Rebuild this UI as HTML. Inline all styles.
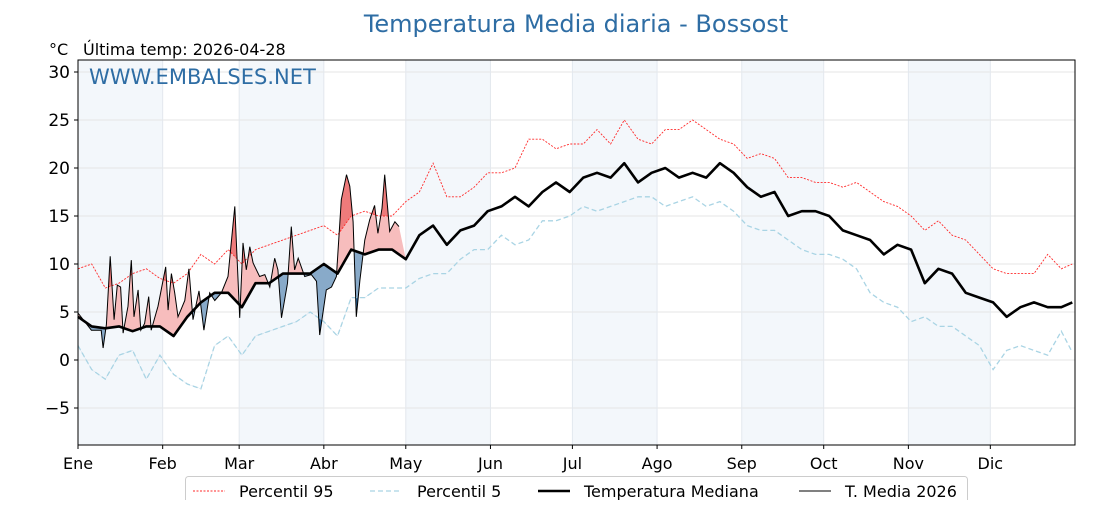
<!DOCTYPE html>
<html><head><meta charset="utf-8"><style>
body{margin:0;background:#fff;font-family:"Liberation Sans",sans-serif}
svg text{font-family:"DejaVu Sans","Liberation Sans",sans-serif}
</style></head><body>
<svg id="c" width="1120" height="500" xmlns="http://www.w3.org/2000/svg"></svg>
<script>
const months=["Ene","Feb","Mar","Abr","May","Jun","Jul","Ago","Sep","Oct","Nov","Dic"];
const monthStart=[0,31,59,90,120,151,181,212,243,273,304,334];
const yTicks=[-5,0,5,10,15,20,25,30];
const sampleDays=[0,5,10,15,20,25,30,35,40,45,50,55,60,65,70,75,80,85,90,95,100,105,110,115,120,125,130,135,140,145,150,155,160,165,170,175,180,185,190,195,200,205,210,215,220,225,230,235,240,245,250,255,260,265,270,275,280,285,290,295,300,305,310,315,320,325,330,335,340,345,350,355,360,364];
const median=[4.5,3.5,3.3,3.5,3,3.5,3.5,2.5,4.5,6,7,7,5.5,8,8,9,9,9,10,9,11.5,11,11.5,11.5,10.5,13,14,12,13.5,14,15.5,16,17,16,17.5,18.5,17.5,19,19.5,19,20.5,18.5,19.5,20,19,19.5,19,20.5,19.5,18,17,17.5,15,15.5,15.5,15,13.5,13,12.5,11,12,11.5,8,9.5,9,7,6.5,6,4.5,5.5,6,5.5,5.5,6];
const p95=[9.5,10,7.5,8,9,9.5,8.5,8,9,11,10,11.5,10,11.5,12,12.5,13,13.5,14,13,15,15.5,15,15,16.5,17.5,20.5,17,17,18,19.5,19.5,20,23,23,22,22.5,22.5,24,22.5,25,23,22.5,24,24,25,24,23,22.5,21,21.5,21,19,19,18.5,18.5,18,18.5,17.5,16.5,16,15,13.5,14.5,13,12.5,11,9.5,9,9,9,11,9.5,10];
const p5=[1.5,-1,-2,0.5,1,-2,0.5,-1.5,-2.5,-3,1.5,2.5,0.5,2.5,3,3.5,4,5,4,2.5,6.5,6.5,7.5,7.5,7.5,8.5,9,9,10.5,11.5,11.5,13,12,12.5,14.5,14.5,15,16,15.5,16,16.5,17,17,16,16.5,17,16,16.5,15.5,14,13.5,13.5,12.5,11.5,11,11,10.5,9.5,7,6,5.5,4,4.5,3.5,3.5,2.5,1.5,-1,1,1.5,1,0.5,3,0.8];
const t26Days=[0,4.9,8.5,9.2,10.4,11.8,13.2,14.4,15.6,16.5,18.3,19.5,20.5,22,23,24.4,25.9,26.8,29.3,32.1,33,34.2,35.4,36.6,39.1,40.6,42.1,44.3,46.1,48.2,50.1,52.5,54.9,56.8,57.4,59.2,60.4,61.6,62.9,64.1,66.5,68.4,70.2,72,73.2,74.5,76.7,78.1,79.3,80.6,83,85.4,87.3,88.5,90.9,92.8,94.6,96.4,98.3,99.5,100.7,101.9,103.2,105,106.8,108.6,109.8,111.3,112.3,114.1,116,117.5];
const t26=[4.9,3.1,3.1,1.25,3.7,10.8,4.2,7.8,7.6,2.8,5.6,10.4,4.5,7.3,3.1,3.8,6.6,3.1,5.6,9.7,5.2,9.0,7.0,4.5,6.2,9.5,4.2,7.2,3.1,7.0,6.2,7.0,8.7,14.2,16.0,4.4,12.2,9.4,11.8,10.1,8.7,8.9,7.6,10.6,9.4,4.4,8.0,13.9,9.4,10.6,8.7,8.9,8.2,2.6,7.3,7.6,8.7,16.7,19.3,18.1,14.4,4.5,8.3,12.5,14.6,16.1,13.2,15.8,19.3,13.4,14.4,13.9,13.7];

const NS="http://www.w3.org/2000/svg";
const svg=document.getElementById('c');
const L=78,R=1075,T=60,B=445;
const X=d=>L+d*(R-L)/365;
const Y=v=>360-v*9.6;
function el(tag,attrs,parent){const e=document.createElementNS(NS,tag);for(const k in attrs)e.setAttribute(k,attrs[k]);(parent||svg).appendChild(e);return e;}
function pts(ds,vs){return ds.map((d,i)=>X(d).toFixed(1)+","+Y(vs[i]).toFixed(1));}

for(let i=0;i<12;i+=2){
  const end=i+1<12?monthStart[i+1]:365;
  const b=el('rect',{x:X(monthStart[i]),y:T,width:X(end)-X(monthStart[i]),height:B-T,fill:'#f3f7fb'});
  
  
}
yTicks.forEach(v=>{const g=el('line',{x1:L,x2:R,y1:Y(v),y2:Y(v),stroke:'#e6e6e6','stroke-width':1});

});
monthStart.forEach(d=>{const g=el('line',{x1:X(d),x2:X(d),y1:T,y2:B,stroke:'#e3e8ee','stroke-width':1});

});

const defs=el('defs',{});
function clip(id,ds,vs,toTop){const c=el('clipPath',{id:id},defs);
  const p=pts(ds,vs);const edge=toTop?T-50:B+50;
  el('polygon',{points:X(ds[0])+","+edge+" "+p.join(" ")+" "+X(ds[ds.length-1])+","+edge},c);}
clip('aboveMed',sampleDays,median,true);
clip('belowMed',sampleDays,median,false);
clip('aboveP95',sampleDays,p95,true);
clip('belowP5',sampleDays,p5,false);

function fillPoly(ref,fill,clipId,name){
  const n=sampleDays.findIndex(d=>d>=120);
  const rd=sampleDays.slice(0,n+1),rv=ref.slice(0,n+1);
  const fw=pts(t26Days,t26);
  const bw=pts(rd,rv).reverse();
  const p=el('polygon',{points:fw.concat(bw).join(" "),fill:fill,'clip-path':'url(#'+clipId+')'});
  
  
}
fillPoly(median,'#f7bdbd','aboveMed','warm-anomaly-fill');
fillPoly(p95,'#ee7b7b','aboveP95','above-p95-fill');
fillPoly(median,'#88aac9','belowMed','cold-anomaly-fill');
fillPoly(p5,'#2c6ba5','belowP5','below-p5-fill');

function line(ds,vs,attrs,name){const p=el('polyline',Object.assign({points:pts(ds,vs).join(" "),fill:'none'},attrs));

}
line(sampleDays,p95,{stroke:'#ff2a2a','stroke-width':0.9,'stroke-dasharray':'2,1.5'},'percentile-95-line');
line(sampleDays,p5,{stroke:'#a9d4e4','stroke-width':1.3,'stroke-dasharray':'5,3'},'percentile-5-line');
line(sampleDays,median,{stroke:'#000','stroke-width':2.6,'stroke-linejoin':'round'},'median-line');
line(t26Days,t26,{stroke:'#000','stroke-width':1},'t-media-2026-line');

const fr=el('rect',{x:L,y:T,width:R-L,height:B-T,fill:'none',stroke:'#000','stroke-width':1});



yTicks.forEach(v=>{
  el('line',{x1:L-4,x2:L,y1:Y(v),y2:Y(v),stroke:'#000'});
  const t=el('text',{x:L-8,y:Y(v)+6,'text-anchor':'end','font-size':17,fill:'#000'});
  t.textContent=v<0?'\u2212'+(-v):String(v);
  
  
});
months.forEach((m,i)=>{
  el('line',{x1:X(monthStart[i]),x2:X(monthStart[i]),y1:B,y2:B+4,stroke:'#000'});
  const t=el('text',{x:X(monthStart[i]),y:469,'text-anchor':'middle','font-size':16,fill:'#000'});
  t.textContent=m;
  
  
});
</script>
<svg style="position:absolute;left:0;top:0" width="1120" height="500" xmlns="http://www.w3.org/2000/svg">
<text x="576" y="32" text-anchor="middle" font-size="24" fill="#2e6da4" font-family="DejaVu Sans, Liberation Sans, sans-serif">Temperatura Media diaria - Bossost</text>
<text x="49" y="55" font-size="16" fill="#000" font-family="DejaVu Sans, Liberation Sans, sans-serif">°C</text>
<text x="83" y="55" font-size="16" fill="#000" font-family="DejaVu Sans, Liberation Sans, sans-serif">Última temp: 2026-04-28</text>
<text x="89" y="84" font-size="21" fill="#2e6da4" font-family="DejaVu Sans, Liberation Sans, sans-serif">WWW.EMBALSES.NET</text>
<g>
<rect x="185.5" y="476.5" width="782" height="30" rx="3" fill="#fff" stroke="#ccc"/>
<line x1="193" x2="225" y1="491" y2="491" stroke="#ff2a2a" stroke-width="0.9" stroke-dasharray="2,1.5"/>
<text x="239" y="497" font-size="16" font-family="DejaVu Sans, Liberation Sans, sans-serif">Percentil 95</text>
<line x1="370" x2="402" y1="491" y2="491" stroke="#a9d4e4" stroke-width="1.3" stroke-dasharray="5,3"/>
<text x="417" y="497" font-size="16" font-family="DejaVu Sans, Liberation Sans, sans-serif">Percentil 5</text>
<line x1="538" x2="570" y1="491" y2="491" stroke="#000" stroke-width="2.6"/>
<text x="584" y="497" font-size="16" font-family="DejaVu Sans, Liberation Sans, sans-serif">Temperatura Mediana</text>
<line x1="799" x2="831" y1="491" y2="491" stroke="#000" stroke-width="1"/>
<text x="845" y="497" font-size="16" font-family="DejaVu Sans, Liberation Sans, sans-serif">T. Media 2026</text>
</g>
</svg>
</body></html>
